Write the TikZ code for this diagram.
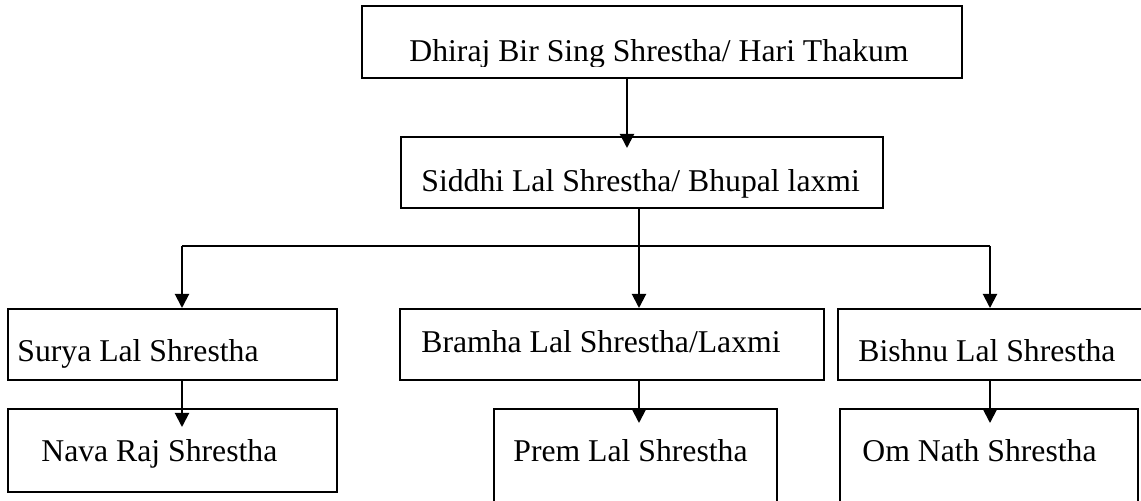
\documentclass[tikz,border=0pt]{standalone}
\usepackage{fontspec}
\setmainfont{Liberation Serif}
\usetikzlibrary{arrows.meta}

\tikzset{
	person/.style={draw, line width=1pt, rectangle, inner sep=0pt, anchor=north west},
	pname/.style={anchor=base west, inner sep=0pt, font=\fontsize{15.85}{19}\selectfont},
	link/.style={line width=1pt},
	down/.style={line width=1pt, -{Triangle[width=7pt,length=7pt]}}
}

\begin{document}
\begin{tikzpicture}[x=0.5pt,y=-0.5pt]
	\path[use as bounding box, clip] (0,0) rectangle (1141,501);
	\node[person, minimum width=300pt, minimum height=36pt] (dhiraj) at (361,5) {};
	\begin{scope}
		\clip (361,5) rectangle (961,67);
		\node[pname] (dhirajt) at (409,62) {Dhiraj Bir Sing Shrestha/ Hari Thakum};
	\end{scope}
	\node[person, minimum width=241pt, minimum height=35.5pt] (siddhi) at (400,136) {};
	\node[pname] (siddhit) at (421,192) {Siddhi Lal Shrestha/ Bhupal laxmi};
	\node[person, minimum width=164.5pt, minimum height=35.5pt] (surya) at (7,308) {};
	\node[pname] (suryat) at (17,362) {Surya Lal Shrestha};
	\node[person, minimum width=212pt, minimum height=35.5pt] (bramha) at (399,308) {};
	\node[pname] (bramhat) at (421,353) {Bramha Lal Shrestha/Laxmi};
	\node[person, minimum width=161.5pt, minimum height=35.5pt] (bishnu) at (837,308) {};
	\node[pname] (bishnut) at (858,362) {Bishnu Lal Shrestha};
	\node[person, minimum width=164.5pt, minimum height=41.5pt] (nava) at (7,408) {};
	\node[pname] (navat) at (41,462) {Nava Raj Shrestha};
	\node[person, minimum width=141.5pt, minimum height=51pt] (prem) at (493,408) {};
	\node[pname] (premt) at (513,462) {Prem Lal Shrestha};
	\node[person, minimum width=149pt, minimum height=51pt] (om) at (839,408) {};
	\node[pname] (omt) at (862,462) {Om Nath Shrestha};
	\coordinate (st) at (627,148);
	\coordinate (jl) at (182,246);
	\coordinate (jm) at (639,246);
	\coordinate (jr) at (990,246);
	\coordinate (nl) at (182,427);
	\coordinate (nm) at (639,423);
	\coordinate (nr) at (990,423);
	\draw[down] (dhiraj.south -| st) -- (st);
	\draw[link] (siddhi.south -| jm) -- (jm);
	\draw[link] (jl) -- (jr);
	\foreach \j/\n in {jl/surya,jm/bramha,jr/bishnu}
		\draw[down] (\j) -- (\j |- \n.north);
	\foreach \j/\n in {nl/surya,nm/bramha,nr/bishnu}
		\draw[down] (\n.south -| \j) -- (\j);
\end{tikzpicture}
\end{document}
